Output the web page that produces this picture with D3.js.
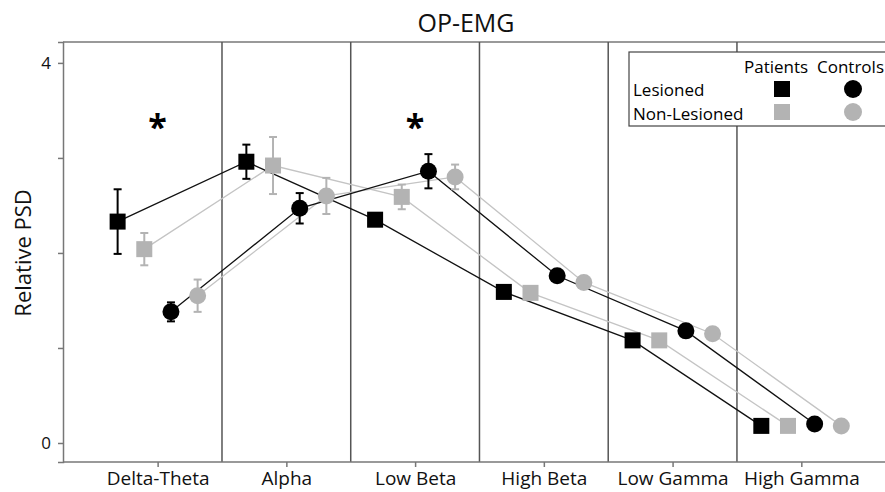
<!DOCTYPE html>
<html>
<head>
<meta charset="utf-8">
<script src="https://cdn.jsdelivr.net/npm/d3@7"></script>
<style>
  body { margin: 0; background: #fff; }
  text { font-family: "Open Sans", sans-serif; }
</style>
</head>
<body>
<svg id="chart"></svg>
<script>
var w = 885;
var h = 492;

var bands = ['Delta-Theta', 'Alpha', 'Low Beta', 'High Beta', 'Low Gamma', 'High Gamma'];
var yTicks = [0, 1, 2, 3, 4];
var yLabels = [0, 4];
var starBands = ['Delta-Theta', 'Low Beta'];

// patients / controls, lesioned / non-lesioned side
var patLes = [2.33, 2.96, 2.35, 1.59, 1.08, 0.18];
var patLesErr = [0.34, 0.18, 0.03, 0.03, 0.03, 0.02];
var patNon = [2.04, 2.92, 2.59, 1.58, 1.08, 0.18];
var patNonErr = [0.17, 0.30, 0.13, 0.05, 0.03, 0.02];
var conLes = [1.38, 2.47, 2.86, 1.76, 1.18, 0.20];
var conLesErr = [0.10, 0.16, 0.18, 0.03, 0.03, 0.02];
var conNon = [1.55, 2.60, 2.80, 1.69, 1.15, 0.18];
var conNonErr = [0.17, 0.19, 0.13, 0.03, 0.03, 0.02];

var black = '#000';
var grey = '#b3b3b3';

var series = [
  {key: 'patNon', vals: patNon, err: patNonErr, shape: 'square', color: grey},
  {key: 'conNon', vals: conNon, err: conNonErr, shape: 'circle', color: grey},
  {key: 'patLes', vals: patLes, err: patLesErr, shape: 'square', color: black},
  {key: 'conLes', vals: conLes, err: conLesErr, shape: 'circle', color: black}
];

var svg = d3.select('#chart').attr('width', w).attr('height', h);

var x = d3.scaleLinear().domain([-0.735, 5.65]).range([63, 885]);
var y = d3.scaleLinear().domain([-0.2, 4.22]).range([462, 42]);
var offset = d3.scalePoint().domain(['patLes', 'patNon', 'conLes', 'conNon']).range([-40, 40]);

function px(key, i) {
  return x(i) + offset(key);
}

// frame
svg.append('line')
  .attr('x1', x.range()[0]).attr('x2', w)
  .attr('y1', y.range()[1]).attr('y2', y.range()[1])
  .style('stroke', '#777').style('stroke-width', 1.5);

// band separators
svg.selectAll('line.sep')
  .data(d3.range(bands.length - 1))
  .enter()
  .append('line')
  .attr('class', 'sep')
  .attr('x1', function (d) { return x(d + 0.5); })
  .attr('x2', function (d) { return x(d + 0.5); })
  .attr('y1', y.range()[1])
  .attr('y2', y.range()[0])
  .style('stroke', '#555')
  .style('stroke-width', 1.5);

// axes
var yAxis = d3.axisLeft(y).tickValues(yTicks).tickSize(5).tickPadding(7)
  .tickFormat(function (d) { return yLabels.indexOf(d) >= 0 ? d : ''; });
var gy = svg.append('g').attr('transform', 'translate(' + x.range()[0] + ',0)').call(yAxis);

var xAxis = d3.axisBottom(x).tickValues(d3.range(bands.length)).tickSize(5).tickPadding(5)
  .tickFormat(function (d) { return bands[d]; });
var gx = svg.append('g').attr('transform', 'translate(0,' + y.range()[0] + ')').call(xAxis);

[gx, gy].forEach(function (g) {
  g.select('.domain').style('stroke', '#777').style('stroke-width', 1.5);
  g.selectAll('.tick line').style('stroke', '#777').style('stroke-width', 1.5);
  g.selectAll('text').style('font-family', '"Open Sans", sans-serif').style('fill', '#111');
});
gx.select('.domain').attr('d', 'M' + x.range()[0] + ',0H' + w);
gx.selectAll('text').style('font-size', '19px');
gy.selectAll('text').style('font-size', '17px');

svg.append('text')
  .attr('transform', 'translate(31,' + y(2) + ') rotate(-90)')
  .attr('text-anchor', 'middle')
  .style('font-size', '22px')
  .style('fill', '#111')
  .text('Relative PSD');

svg.append('text')
  .attr('x', 466)
  .attr('y', 32)
  .attr('text-anchor', 'middle')
  .style('font-size', '25px')
  .style('fill', '#111')
  .text('OP-EMG');

// significance marks
svg.selectAll('text.star')
  .data(starBands)
  .enter()
  .append('text')
  .attr('class', 'star')
  .attr('x', function (d) { return x(bands.indexOf(d)); })
  .attr('y', y(3.2))
  .attr('text-anchor', 'middle')
  .style('font-size', '34px')
  .style('font-weight', 'bold')
  .text('*');

var line = d3.line()
  .x(function (d) { return d[0]; })
  .y(function (d) { return y(d[1]); });

series.forEach(function (s) {
  var pts = s.vals.map(function (v, i) { return [px(s.key, i), v]; });
  svg.append('path')
    .attr('d', line(pts))
    .style('fill', 'none')
    .style('stroke', s.color === black ? '#111' : '#c4c4c4')
    .style('stroke-width', 1.3);
});

series.forEach(function (s) {
  var g = svg.append('g');
  g.selectAll('line.err')
    .data(s.vals)
    .enter()
    .append('line')
    .attr('x1', function (d, i) { return px(s.key, i); })
    .attr('x2', function (d, i) { return px(s.key, i); })
    .attr('y1', function (d, i) { return y(d + s.err[i]); })
    .attr('y2', function (d, i) { return y(d - s.err[i]); })
    .style('stroke', s.color)
    .style('stroke-width', 2);
  [1, -1].forEach(function (sign) {
    g.selectAll('line.cap' + sign)
      .data(s.vals)
      .enter()
      .append('line')
      .attr('x1', function (d, i) { return px(s.key, i) - 4; })
      .attr('x2', function (d, i) { return px(s.key, i) + 4; })
      .attr('y1', function (d, i) { return y(d + sign * s.err[i]); })
      .attr('y2', function (d, i) { return y(d + sign * s.err[i]); })
      .style('stroke', s.color)
      .style('stroke-width', 2);
  });
  if (s.shape === 'square') {
    g.selectAll('rect')
      .data(s.vals)
      .enter()
      .append('rect')
      .attr('x', function (d, i) { return px(s.key, i) - 8; })
      .attr('y', function (d) { return y(d) - 8; })
      .attr('width', 16)
      .attr('height', 16)
      .style('fill', s.color);
  } else {
    g.selectAll('circle')
      .data(s.vals)
      .enter()
      .append('circle')
      .attr('cx', function (d, i) { return px(s.key, i); })
      .attr('cy', function (d) { return y(d); })
      .attr('r', 8.5)
      .style('fill', s.color);
  }
});

// legend
var lg = svg.append('g').attr('transform', 'translate(629,52)');
lg.append('rect')
  .attr('width', 270).attr('height', 74)
  .style('fill', '#fff').style('stroke', '#444').style('stroke-width', 1.2);
lg.append('text').attr('x', 115).attr('y', 21).style('font-size', '17px').text('Patients');
lg.append('text').attr('x', 188).attr('y', 21).style('font-size', '17px').text('Controls');
lg.append('text').attr('x', 4).attr('y', 44).style('font-size', '17px').text('Lesioned');
lg.append('text').attr('x', 4).attr('y', 68).style('font-size', '17px').text('Non-Lesioned');
[black, grey].forEach(function (c, i) {
  lg.append('rect')
    .attr('x', 145).attr('y', 29 + i * 23)
    .attr('width', 16).attr('height', 16)
    .style('fill', c);
  lg.append('circle')
    .attr('cx', 224).attr('cy', 37 + i * 23)
    .attr('r', 9)
    .style('fill', c);
});
</script>
</body>
</html>
